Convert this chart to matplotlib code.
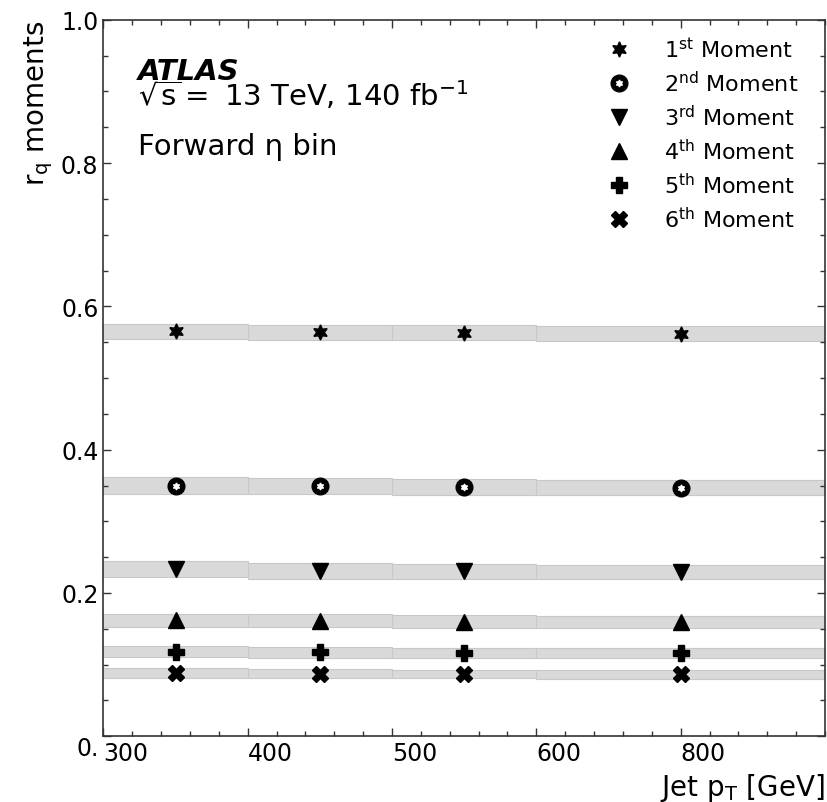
import matplotlib
matplotlib.use('Agg')
import matplotlib.pyplot as plt
from matplotlib.lines import Line2D
from matplotlib.ticker import MultipleLocator

# bins on the (compressed) pT axis
bin_edges = [300, 400, 500, 600, 800]
bin_centres = [350, 450, 550, 700]
x_ticks = [300, 400, 500, 600, 700]
x_tick_labels = ['300', '400', '500', '600', '800']
y_ticks = [0.0, 0.2, 0.4, 0.6, 0.8, 1.0]
y_tick_labels = ['0.', '0.2', '0.4', '0.6', '0.8', '1.0']

labels = [r'1$^{\mathrm{st}}$ Moment', r'2$^{\mathrm{nd}}$ Moment',
          r'3$^{\mathrm{rd}}$ Moment', r'4$^{\mathrm{th}}$ Moment',
          r'5$^{\mathrm{th}}$ Moment', r'6$^{\mathrm{th}}$ Moment']

m1 = [0.565, 0.564, 0.563, 0.562]
m2 = [0.350, 0.349, 0.348, 0.347]
m3 = [0.233, 0.231, 0.230, 0.229]
m4 = [0.162, 0.161, 0.160, 0.159]
m5 = [0.118, 0.117, 0.116, 0.116]
m6 = [0.088, 0.0875, 0.087, 0.0865]

e1 = [0.0110, 0.0105, 0.0105, 0.0100]
e2 = [0.0120, 0.0115, 0.0110, 0.0105]
e3 = [0.0112, 0.0108, 0.0103, 0.0100]
e4 = [0.0093, 0.0090, 0.0088, 0.0082]
e5 = [0.0079, 0.0075, 0.0072, 0.0070]
e6 = [0.0070, 0.0064, 0.0060, 0.0060]

values = [m1, m2, m3, m4, m5, m6]
errors = [e1, e2, e3, e4, e5, e6]

fig = plt.figure(figsize=(8.28, 8.03), dpi=100)
ax = fig.add_axes([0.1248, 0.0818, 0.8716, 0.8924])

# systematic bands
lefts = bin_edges[:-1]
widths = [b - a for a, b in zip(bin_edges[:-1], bin_edges[1:])]
for val, err in zip(values, errors):
    ax.bar(lefts, [2 * e for e in err], width=widths,
           bottom=[v - e for v, e in zip(val, err)], align='edge',
           color='#d9d9d9', edgecolor='#c8c8c8', linewidth=0.8, zorder=1)

star = (6, 1, 0)
ax.plot(bin_centres, m1, ls='none', marker=star, ms=11, color='k', zorder=3)
ax.plot(bin_centres, m2, ls='none', marker='o', ms=12, color='k', zorder=3)
ax.plot(bin_centres, m2, ls='none', marker=star, ms=5, color='w', zorder=4)
ax.plot(bin_centres, m3, ls='none', marker='v', ms=12, color='k', zorder=3)
ax.plot(bin_centres, m4, ls='none', marker='^', ms=12, color='k', zorder=3)
ax.plot(bin_centres, m5, ls='none', marker='P', ms=12, color='k', zorder=3)
ax.plot(bin_centres, m6, ls='none', marker='X', ms=12, color='k', zorder=3)

h1 = Line2D([], [], ls='none', marker=star, ms=11, color='k')
h2 = (Line2D([], [], ls='none', marker='o', ms=12, color='k'),
      Line2D([], [], ls='none', marker=star, ms=5, color='w'))
h3 = Line2D([], [], ls='none', marker='v', ms=12, color='k')
h4 = Line2D([], [], ls='none', marker='^', ms=12, color='k')
h5 = Line2D([], [], ls='none', marker='P', ms=12, color='k')
h6 = Line2D([], [], ls='none', marker='X', ms=12, color='k')
ax.legend([h1, h2, h3, h4, h5, h6], labels, loc='upper right',
          bbox_to_anchor=(0.975, 0.99), borderaxespad=0, frameon=False,
          fontsize=16, handlelength=1.0, handletextpad=1.5, labelspacing=0.4)

ax.set_xlim(300, 800)
ax.set_ylim(0, 1.0)
ax.set_xticks(x_ticks)
ax.set_xticklabels(x_tick_labels, ha='left')
ax.set_yticks(y_ticks)
ax.set_yticklabels(y_tick_labels)
ax.get_yticklabels()[0].set_va('top')
ax.xaxis.set_minor_locator(MultipleLocator(20))
ax.yaxis.set_minor_locator(MultipleLocator(0.05))
ax.tick_params(which='both', direction='in', top=True, right=True,
               labelsize=17, color='#333333')
ax.tick_params(which='major', length=6, width=1)
ax.tick_params(which='minor', length=3.5, width=1)
for sp in ax.spines.values():
    sp.set_linewidth(1.2)
    sp.set_color('#333333')

ax.set_xlabel(r'Jet p$_{\mathrm{T}}$ [GeV]', fontsize=20, loc='right')
ax.set_ylabel(r'r$_{\mathrm{q}}$ moments', fontsize=20, loc='top')

ax.text(0.0485, 0.917, 'ATLAS', transform=ax.transAxes, fontsize=21,
        fontweight='bold', fontstyle='italic')
ax.text(0.0485, 0.881, r'$\sqrt{\mathrm{s}}=$ 13 TeV, 140 fb$^{-1}$',
        transform=ax.transAxes, fontsize=21)
ax.text(0.0485, 0.8125, 'Forward η bin', transform=ax.transAxes, fontsize=21)

fig.savefig('out.png', dpi=100)
